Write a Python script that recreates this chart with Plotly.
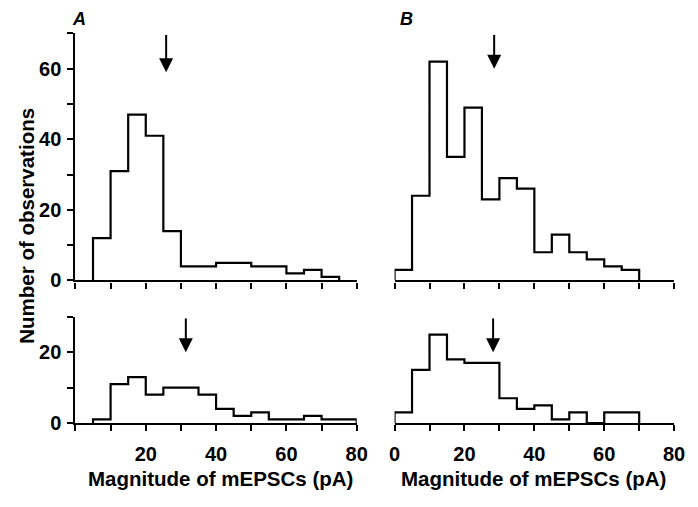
import plotly.graph_objects as go

# ---- data (bin width 5 pA) ----
a_top_start = 5
a_top_counts = [12, 31, 47, 41, 14, 4, 4, 5, 5, 4, 4, 2, 3, 1]
b_top_start = 0
b_top_counts = [3, 24, 62, 35, 49, 23, 29, 26, 8, 13, 8, 6, 4, 3]
a_bot_start = 5
a_bot_counts = [1, 11, 13, 8, 10, 10, 8, 4, 2, 3, 1, 1, 2, 1, 1]
b_bot_start = 0
b_bot_counts = [3, 15, 25, 18, 17, 17, 7, 4, 5, 1, 3, 0, 3, 3]
bin_width = 5

# arrows: mean magnitude (pA), arrow tail value, arrow tip value
arrow_means = [25.8, 28.5, 31.4, 28.2]
arrow_tails = [70, 70, 30, 30]
arrow_tips = [59, 60, 20, 20]

x_ticks = [0, 10, 20, 30, 40, 50, 60, 70, 80]
x_labels_a = ["", "", "20", "", "40", "", "60", "", "80"]
x_labels_b = ["0", "", "20", "", "40", "", "60", "", "80"]
y_top_ticks = [0, 10, 20, 30, 40, 50, 60, 70]
y_top_labels = ["0", "", "20", "", "40", "", "60", ""]
y_bot_ticks = [0, 10, 20, 30]
y_bot_labels = ["0", "", "20", ""]

# the page body has an 8px margin on every side; size the figure so the page is exactly 698x507
OFF = 8
W, H = 698 - 2 * OFF, 507 - 2 * OFF
FONT = "Arial, Liberation Sans, sans-serif"


def px(x):
    return (x - OFF) / W


def py(y):
    return (H - (y - OFF)) / H


def step(start, counts):
    xs = [start] + [start + i * bin_width for i in range(len(counts))] + [start + len(counts) * bin_width]
    ys = [0] + list(counts) + [0]
    return xs, ys


fig = go.Figure()
panels = [
    ("x", "y", a_top_start, a_top_counts),
    ("x2", "y2", b_top_start, b_top_counts),
    ("x3", "y3", a_bot_start, a_bot_counts),
    ("x4", "y4", b_bot_start, b_bot_counts),
]
for xa, ya, s, c in panels:
    xs, ys = step(s, c)
    fig.add_trace(go.Scatter(x=xs, y=ys, mode="lines", line=dict(color="black", width=2.2, shape="hv"),
                             xaxis=xa, yaxis=ya, showlegend=False, hoverinfo="skip"))

dom_a = [px(71), px(359.5)]
dom_b = [px(398.3), px(685)]
dom_top = [py(286.7), py(34)]
dom_bot = [py(432.5), py(324)]

tickfont = dict(family=FONT, size=20, color="black", weight="bold")


def xax(domain, anchor, labels, show_labels):
    return dict(domain=domain, anchor=anchor, range=[0, 80], showline=True, linecolor="black", linewidth=2.2,
                ticks="outside", ticklen=6, tickwidth=2.2, tickcolor="black", tickmode="array",
                tickvals=x_ticks, ticktext=labels, showticklabels=show_labels, showgrid=False, zeroline=False,
                tickfont=tickfont, ticklabelstandoff=6)


def yax(domain, anchor, rng, tv, tt, show):
    d = dict(domain=domain, anchor=anchor, range=rng, showgrid=False, zeroline=False)
    if show:
        d.update(showline=True, linecolor="black", linewidth=2.2, ticks="outside", ticklen=6, tickwidth=2.2,
                 tickcolor="black", tickmode="array", tickvals=tv, ticktext=tt, tickfont=tickfont,
                 ticklabelstandoff=2)
    else:
        d.update(showline=False, ticks="", showticklabels=False)
    return d


fig.update_layout(
    width=W, height=H, margin=dict(l=0, r=0, t=0, b=0),
    paper_bgcolor="white", plot_bgcolor="rgba(0,0,0,0)",
    xaxis=xax(dom_a, "y", x_labels_a, False),
    xaxis2=xax(dom_b, "y2", x_labels_b, False),
    xaxis3=xax(dom_a, "y3", x_labels_a, True),
    xaxis4=xax(dom_b, "y4", x_labels_b, True),
    yaxis=yax(dom_top, "x", [0, 70], y_top_ticks, y_top_labels, True),
    yaxis2=yax(dom_top, "x2", [0, 70], y_top_ticks, y_top_labels, False),
    yaxis3=yax(dom_bot, "x3", [0, 30], y_bot_ticks, y_bot_labels, True),
    yaxis4=yax(dom_bot, "x4", [0, 30], y_bot_ticks, y_bot_labels, False),
)

anns = []
for (xa, ya), m, t0, t1 in zip([("x", "y"), ("x2", "y2"), ("x3", "y3"), ("x4", "y4")], arrow_means, arrow_tails, arrow_tips):
    anns.append(dict(x=m, y=t1, ax=m, ay=t0, xref=xa, yref=ya, axref=xa, ayref=ya, text="", showarrow=True,
                     arrowhead=2, arrowsize=1.4, arrowwidth=2, arrowcolor="black"))

titlefont = dict(family=FONT, size=20.5, color="black", weight="bold")
common = dict(xref="paper", yref="paper", showarrow=False, xanchor="center", yanchor="middle")
panel_font = dict(family=FONT, size=18, color="black", weight="bold")
anns += [
    dict(x=px(75), y=py(OFF), text="<i>A</i>", font=panel_font, borderpad=0,
         xref="paper", yref="paper", showarrow=False, xanchor="center", yanchor="top"),
    dict(x=px(411), y=py(OFF), text="<i>B</i>", font=panel_font, borderpad=0,
         xref="paper", yref="paper", showarrow=False, xanchor="center", yanchor="top"),
    dict(x=px(220), y=py(489), text="Magnitude of mEPSCs (pA)", font=titlefont, **common),
    dict(x=px(541), y=py(489), text="Magnitude of mEPSCs (pA)", font=titlefont, **common),
    dict(x=px(20), y=py(231), text="Number of observations", textangle=-90, font=titlefont, **common),
]
fig.update_layout(annotations=anns)

fig.write_html("out.html")
